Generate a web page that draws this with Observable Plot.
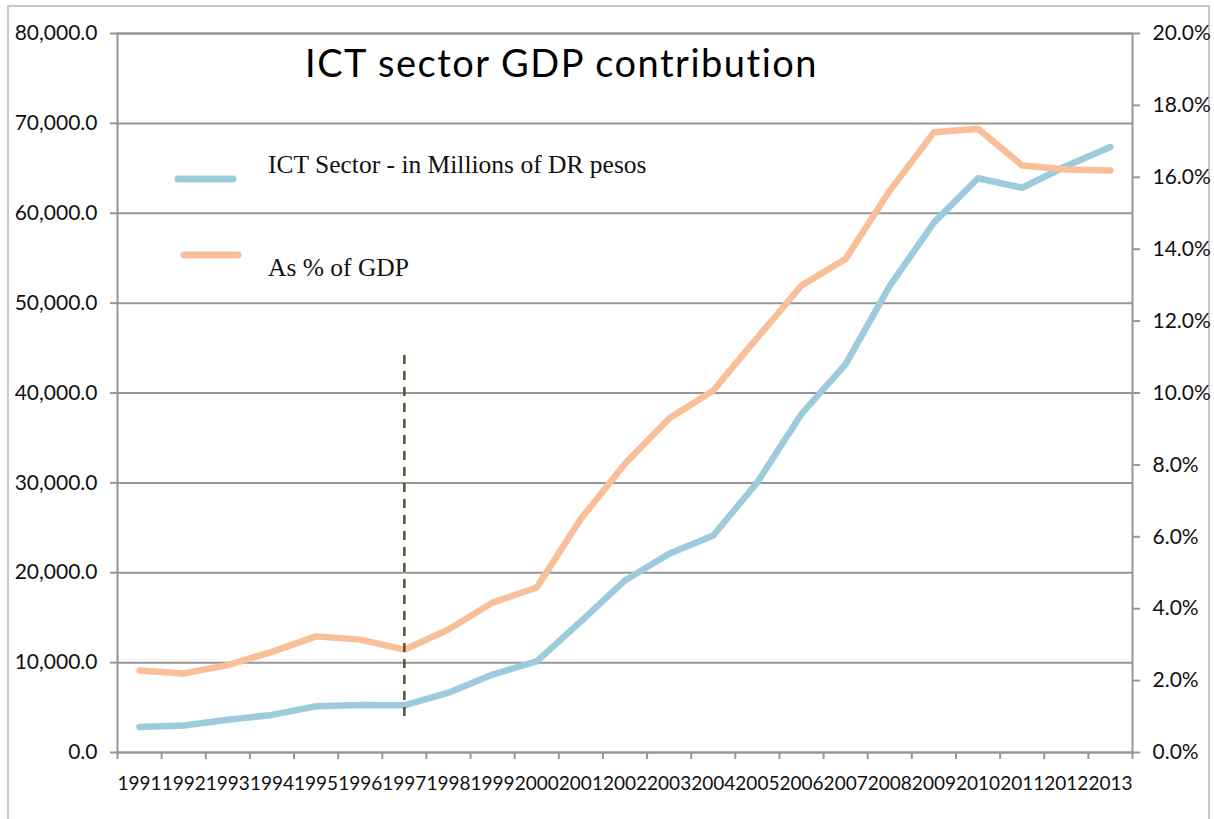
<!DOCTYPE html>
<html>
<head>
<meta charset="utf-8">
<script src="https://cdn.jsdelivr.net/npm/d3@7"></script>
<script src="https://cdn.jsdelivr.net/npm/@observablehq/plot@0.6"></script>
<style>
  html, body { margin: 0; padding: 0; background: #fff; }
  #wrap { position: relative; width: 1214px; height: 819px; overflow: hidden; }
  #border { position: absolute; left: 7px; top: 5px; width: 1203px; height: 830px; border: 2px solid #c9c9c9; box-sizing: border-box; }
  #chart { position: absolute; left: 0; top: 0; }
</style>
</head>
<body>
<div id="wrap"><div id="border"></div><div id="chart"></div></div>
<script>
// ---- data ----
const years = [1991, 1992, 1993, 1994, 1995, 1996, 1997, 1998, 1999, 2000, 2001, 2002,
               2003, 2004, 2005, 2006, 2007, 2008, 2009, 2010, 2011, 2012, 2013];
const ictMillions = [2850, 3000, 3650, 4180, 5140, 5290, 5250, 6660, 8670, 10140, 14600, 19140,
                     22110, 24140, 30070, 37670, 43220, 51920, 58960, 63890, 62840, 65260, 67370];
const pctOfGDP = [2.28, 2.20, 2.43, 2.80, 3.23, 3.14, 2.86, 3.42, 4.17, 4.59, 6.50, 8.03,
                  9.29, 10.07, 11.54, 12.99, 13.73, 15.63, 17.25, 17.35, 16.33, 16.22, 16.19];
const leftTicks = [0, 10000, 20000, 30000, 40000, 50000, 60000, 70000, 80000];
const rightTicks = [0, 2, 4, 6, 8, 10, 12, 14, 16, 18, 20];
const markerYear = [1997];
const markerSpan = [4000, 44300];
const seriesNames = ["ICT Sector - in Millions of DR pesos", "As % of GDP"];
const titleText = "ICT sector GDP contribution";

const BLUE = "#9ccbdb", ORANGE = "#f9bf99", GRID = "#969696";
const K = leftTicks[leftTicks.length - 1] / rightTicks[rightTicks.length - 1]; // % -> left units

const rows = years.map((yr, i) => ({year: yr, ict: ictMillions[i], pct: pctOfGDP[i] * K}));
const bounds = [...years.map(y => y - 0.5), years[years.length - 1] + 0.5];

const chart = Plot.plot({
  width: 1214, height: 819,
  marginLeft: 117, marginRight: 82, marginTop: 33, marginBottom: 67,
  x: {type: "linear", domain: [years[0] - 0.5, years[years.length - 1] + 0.5], label: null},
  y: {domain: [leftTicks[0], leftTicks[leftTicks.length - 1]], label: null},
  style: {fontFamily: "Lato, 'Open Sans', sans-serif", fontSize: "19px", color: "#111", background: "transparent", overflow: "visible"},
  marks: [
    Plot.gridY(leftTicks, {stroke: GRID, strokeOpacity: 1, strokeWidth: 2}),
    Plot.frame({stroke: GRID, strokeWidth: 2}),
    Plot.axisY(leftTicks, {anchor: "left", label: null, tickSize: 7, tickPadding: 13, stroke: GRID, strokeWidth: 2, strokeOpacity: 1,
      fontSize: 21, tickFormat: d => d3.format(",.1f")(d)}),
    Plot.axisY(rightTicks.map(p => p * K), {anchor: "right", label: null, tickSize: 7, tickPadding: 13, stroke: GRID, strokeWidth: 2, strokeOpacity: 1,
      fontSize: 21, tickFormat: d => (d / K).toFixed(1) + "%"}),
    Plot.axisX(bounds, {anchor: "bottom", label: null, tickSize: 7, stroke: GRID, strokeWidth: 2, strokeOpacity: 1, tickFormat: () => ""}),
    Plot.axisX(years, {anchor: "bottom", label: null, tickSize: 0, tickPadding: 24, fontSize: 19, tickFormat: d => String(d)}),
    Plot.lineY(rows, {x: "year", y: "ict", stroke: BLUE, strokeWidth: 6.5, strokeLinejoin: "round", strokeLinecap: "round"}),
    Plot.lineY(rows, {x: "year", y: "pct", stroke: ORANGE, strokeWidth: 6.5, strokeLinejoin: "round", strokeLinecap: "round"}),
    Plot.ruleX(markerYear, {y1: markerSpan[0], y2: markerSpan[1], stroke: "#5c5033", strokeWidth: 2.5, strokeDasharray: "9,7"})
  ]
});
document.getElementById("chart").appendChild(chart);

// title and legend drawn into the svg
const svg = d3.select(chart);
svg.append("text").attr("x", 305).attr("y", 77).attr("text-anchor", "start")
  .attr("font-family", "Lato, sans-serif").attr("font-size", 38).attr("letter-spacing", "1.5px").attr("fill", "#000")
  .text(titleText);
const leg = svg.append("g").attr("text-anchor", "start");
const legendItems = [{name: seriesNames[0], color: BLUE, x1: 178, x2: 233, ly: 179, ty: 173},
                     {name: seriesNames[1], color: ORANGE, x1: 184, x2: 238, ly: 255, ty: 276}];
legendItems.forEach(d => {
  leg.append("line").attr("x1", d.x1).attr("x2", d.x2).attr("y1", d.ly).attr("y2", d.ly)
    .attr("stroke", d.color).attr("stroke-width", 7).attr("stroke-linecap", "round");
  leg.append("text").attr("x", 268).attr("y", d.ty).attr("text-anchor", "start")
    .attr("font-family", "'Liberation Serif', serif").attr("font-size", 25.5).attr("fill", "#111")
    .text(d.name);
});
</script>
</body>
</html>
